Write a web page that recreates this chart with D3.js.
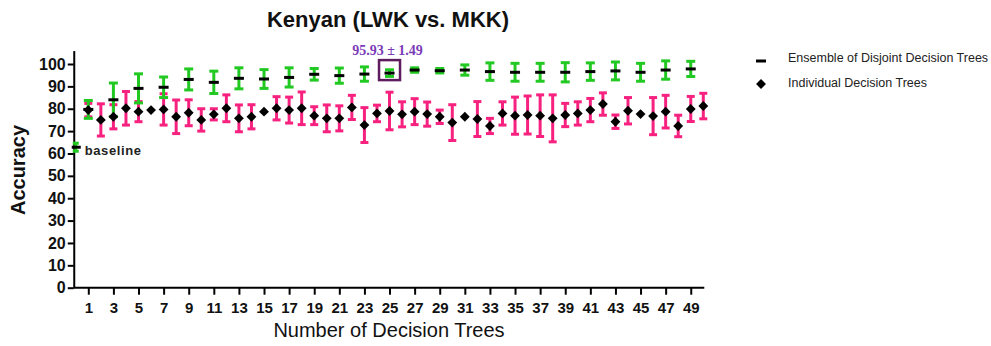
<!DOCTYPE html>
<html>
<head>
<meta charset="utf-8">
<script src="https://cdn.jsdelivr.net/npm/d3@7"></script>
<style>
  body { margin: 0; background: #fff; }
  svg { font-family: Arial, "Liberation Sans", sans-serif; }
</style>
</head>
<body>
<div id="chart"></div>
<script>
// Data
const ensTrees = [1, 3, 5, 7, 9, 11, 13, 15, 17, 19, 21, 23, 25, 27, 29, 31, 33, 35, 37, 39, 41, 43, 45, 47, 49];
const ensMean = [79.7, 84.0, 89.1, 89.6, 93.1, 91.8, 93.6, 93.3, 94.0, 95.4, 94.8, 95.5, 95.93,
  97.3, 97.0, 97.3, 96.6, 96.3, 96.3, 96.3, 96.6, 96.9, 96.3, 97.3, 97.8];
const ensErr = [4.0, 7.5, 6.5, 4.6, 4.7, 5.0, 4.7, 4.2, 4.3, 2.6, 3.4, 3.2, 1.49,
  1.0, 1.0, 2.3, 3.9, 4.0, 4.0, 4.3, 3.9, 4.0, 4.0, 4.1, 3.4];

const indTrees = [1, 2, 3, 4, 5, 6, 7, 8, 9, 10, 11, 12, 13, 14, 15, 16, 17, 18, 19, 20, 21, 22, 23, 24, 25,
  26, 27, 28, 29, 30, 31, 32, 33, 34, 35, 36, 37, 38, 39, 40, 41, 42, 43, 44, 45, 46, 47, 48, 49, 50];
const indMean = [79.4, 75.0, 76.4, 80.2, 78.7, 79.4, 79.7, 76.4, 78.2, 75.0, 77.5, 80.2, 75.7, 76.4, 78.7,
  80.2, 79.4, 80.2, 76.9, 75.7, 75.7, 80.6, 72.7, 77.9, 79.0, 77.5, 78.7, 77.6, 76.4, 73.8,
  76.4, 75.4, 72.3, 77.9, 76.9, 77.2, 76.9, 75.7, 77.2, 77.9, 79.4, 82.1, 74.2, 79.1, 77.6,
  76.7, 78.7, 72.3, 79.9, 81.2];
const indErr = [3.0, 7.2, 5.4, 7.5, 4.5, 0.8, 7.0, 7.5, 5.8, 5.0, 2.5, 6.0, 6.0, 5.4, 0.8,
  5.2, 5.8, 7.3, 4.0, 6.0, 5.6, 5.4, 7.8, 3.7, 8.4, 5.6, 5.8, 5.4, 3.0, 8.0,
  0.8, 7.8, 3.4, 5.2, 8.3, 8.5, 9.3, 10.5, 5.2, 5.2, 5.2, 5.0, 3.0, 5.9, 0.8,
  8.3, 7.3, 4.8, 5.6, 5.7];

const baseline = { trees: 0, mean: 62.8, err: 1.8 };
const highlight = { trees: 25, label: "95.93 \u00b1 1.49" };

const yTicks = [0, 10, 20, 30, 40, 50, 60, 70, 80, 90, 100];
const xTicks = [1, 3, 5, 7, 9, 11, 13, 15, 17, 19, 21, 23, 25, 27, 29, 31, 33, 35, 37, 39, 41, 43, 45, 47, 49];

const legendLabels = ["Ensemble of Disjoint Decision Trees", "Individual Decision Trees"];

// Colours
const green = "#22c922";
const pink = "#f7217f";

const width = 991;
const height = 346;

const svg = d3.select("#chart").append("svg")
  .attr("width", width)
  .attr("height", height);

// Scales
const x = d3.scaleLinear()
  .domain([0, 50])
  .range([75.75, 703.3]);

const y = d3.scaleLinear()
  .domain([0, 106])
  .range([287.7, 287.7 - 2.237 * 106]);

// Axes
const xAxis = svg.append("g")
  .attr("transform", `translate(0, ${y(0)})`)
  .call(d3.axisBottom(x).tickValues(xTicks).tickSize(7).tickPadding(8).tickSizeOuter(0));
xAxis.select(".domain").attr("d", `M${x(0) - 2},0H${x(50) + 1}`);

const yAxis = svg.append("g")
  .attr("transform", `translate(${x(0) - 2}, 0)`)
  .call(d3.axisLeft(y).tickValues(yTicks).tickSize(6).tickPadding(2).tickSizeOuter(0));

[xAxis, yAxis].forEach(g => {
  g.selectAll("path, line").attr("stroke", "#000").attr("stroke-width", 2);
  g.selectAll("text")
    .attr("fill", "#111")
    .style("font-size", "15px")
    .style("font-weight", "bold");
});
yAxis.selectAll("text").style("font-size", "16px");

// Axis labels
svg.append("text")
  .attr("x", 389)
  .attr("y", 337)
  .attr("text-anchor", "middle")
  .style("font-size", "20px")
  .attr("fill", "#111")
  .text("Number of Decision Trees");

svg.append("text")
  .attr("transform", "rotate(-90)")
  .attr("x", -170)
  .attr("y", 25)
  .attr("text-anchor", "middle")
  .style("font-size", "20px")
  .style("font-weight", "600")
  .attr("fill", "#111")
  .text("Accuracy");

// Title
svg.append("text")
  .attr("x", 388)
  .attr("y", 27)
  .attr("text-anchor", "middle")
  .style("font-size", "22px")
  .style("font-weight", "bold")
  .attr("fill", "#111")
  .text("Kenyan (LWK vs. MKK)");

// Error bar helper
function errorBar(g, cx, mean, err, color, cap) {
  const y1 = y(mean + err);
  const y2 = y(mean - err);
  g.append("line")
    .attr("x1", cx).attr("x2", cx)
    .attr("y1", y1).attr("y2", y2)
    .attr("stroke", color).attr("stroke-width", 3);
  [y1, y2].forEach(yy => {
    g.append("line")
      .attr("x1", cx - cap / 2).attr("x2", cx + cap / 2)
      .attr("y1", yy).attr("y2", yy)
      .attr("stroke", color).attr("stroke-width", 3);
  });
}

// Individual error bars (pink)
const pinkBars = svg.append("g");
indTrees.forEach((n, i) => {
  if (indErr[i] > 1) errorBar(pinkBars, x(n), indMean[i], indErr[i], pink, 8);
});

// Ensemble error bars (green)
const greenBars = svg.append("g");
ensTrees.forEach((n, i) => {
  errorBar(greenBars, x(n), ensMean[i], ensErr[i], green, 9);
});
errorBar(greenBars, x(baseline.trees), baseline.mean, baseline.err, green, 6);

// Diamonds
const diamond = d3.symbol().type(d3.symbolDiamond2).size(62);
svg.append("g")
  .selectAll("path")
  .data(indTrees)
  .enter()
  .append("path")
    .attr("transform", (d, i) => `translate(${x(d)}, ${y(indMean[i])})`)
    .attr("d", diamond)
    .attr("fill", "#000");

// Dashes
svg.append("g")
  .selectAll("rect")
  .data(ensTrees)
  .enter()
  .append("rect")
    .attr("x", d => x(d) - 5)
    .attr("y", (d, i) => y(ensMean[i]) - 1.5)
    .attr("width", 10)
    .attr("height", 3)
    .attr("fill", "#000");

svg.append("rect")
  .attr("x", x(baseline.trees) - 4)
  .attr("y", y(baseline.mean) - 1.5)
  .attr("width", 9)
  .attr("height", 3)
  .attr("fill", "#000");

svg.append("text")
  .attr("x", x(baseline.trees) + 9)
  .attr("y", y(baseline.mean) + 8)
  .style("font-size", "13px")
  .style("font-weight", "bold")
  .style("letter-spacing", "0.6px")
  .attr("fill", "#222")
  .text("baseline");

// Highlight box around 25 trees
const hi = ensTrees.indexOf(highlight.trees);
const hx = x(highlight.trees);
const hy = y(ensMean[hi]) - 3;
svg.append("rect")
  .attr("x", hx - 10.5)
  .attr("y", hy - 10)
  .attr("width", 21)
  .attr("height", 20)
  .attr("fill", "none")
  .attr("stroke", "#5e1b5e")
  .attr("stroke-width", 2.5);

svg.append("text")
  .attr("x", hx - 2)
  .attr("y", hy - 15)
  .attr("text-anchor", "middle")
  .style("font-family", "'Liberation Serif', 'Times New Roman', serif")
  .style("font-size", "14px")
  .style("font-weight", "bold")
  .attr("fill", "#7b3bb8")
  .text(highlight.label);

// Legend
const legend = svg.append("g");
legend.append("rect")
  .attr("x", 756).attr("y", 59.5)
  .attr("width", 10).attr("height", 3)
  .attr("fill", "#000");
legend.append("path")
  .attr("transform", "translate(761, 84)")
  .attr("d", diamond)
  .attr("fill", "#000");
legendLabels.forEach((label, i) => {
  legend.append("text")
    .attr("x", 788)
    .attr("y", 58.5 + i * 25)
    .attr("dominant-baseline", "middle")
    .style("font-size", "12.5px")
    .attr("fill", "#222")
    .text(label);
});
</script>
</body>
</html>
